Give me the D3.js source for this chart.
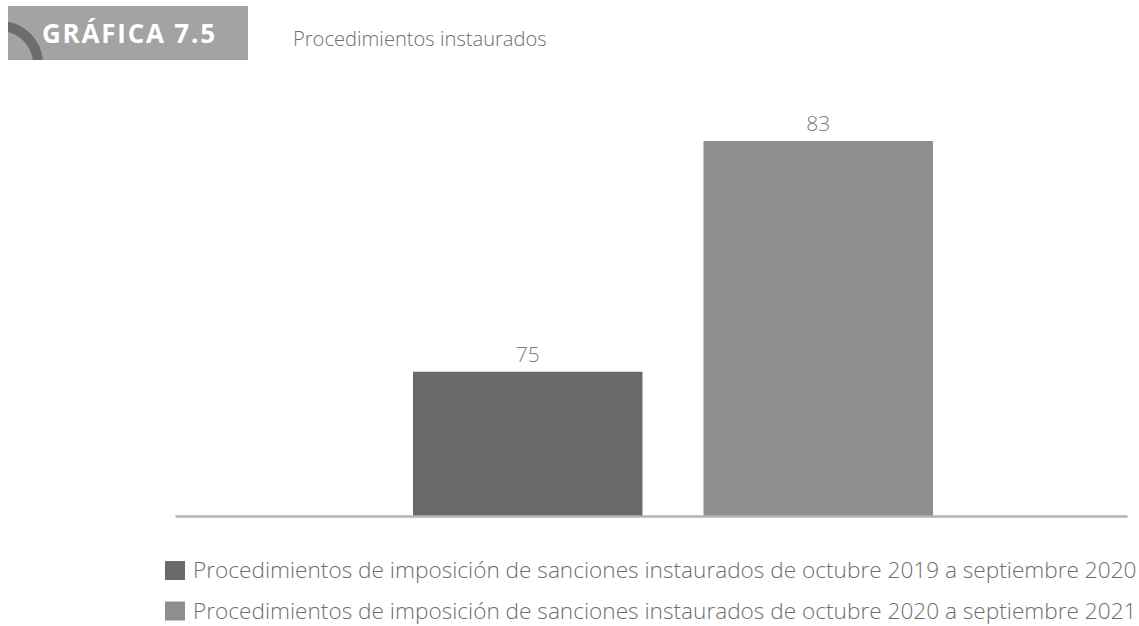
<!DOCTYPE html>
<html><head><meta charset="utf-8">
<script src="https://cdn.jsdelivr.net/npm/d3@7"></script>
<style>body{margin:0;background:#fff;} svg{display:block;}</style>
</head><body>
<svg id="c" width="1139" height="626"></svg>
<script>
const chartNumber = "GRÁFICA 7.5";
const chartTitle = "Procedimientos instaurados";
const categories = ["2019-2020", "2020-2021"];
const values = [75, 83];
const seriesLabels = [
  "Procedimientos de imposición de sanciones instaurados de octubre 2019 a septiembre 2020",
  "Procedimientos de imposición de sanciones instaurados de octubre 2020 a septiembre 2021"
];
const colors = ["#6a6a6a", "#8e8e8e"];
const yDomain = [70, 83];

const svg = d3.select("#c");
const font = "'Open Sans', Lato, sans-serif";

function fitWidth(sel, target){
  sel.each(function(){
    const s = d3.select(this);
    const fs = +s.attr("font-size");
    const w = this.getComputedTextLength();
    s.attr("font-size", fs*target/w);
  });
}
function fitSpacing(sel, target){
  sel.each(function(){
    const s = d3.select(this);
    const w = this.getComputedTextLength();
    const n = s.text().length;
    s.attr("letter-spacing", (target - w)/(n-1));
  });
}

// header
const hdr = svg.append("g");
hdr.append("clipPath").attr("id","hc").append("rect").attr("x",8).attr("y",6).attr("width",240).attr("height",54);
hdr.append("rect").attr("x",8).attr("y",6).attr("width",240).attr("height",54).attr("fill","#a3a3a3");
hdr.append("circle").attr("cx",0).attr("cy",64).attr("r",38).attr("fill","none")
  .attr("stroke","#6d6d6d").attr("stroke-width",10).attr("clip-path","url(#hc)");
const hn = hdr.append("text").attr("x",42).attr("y",43).text(chartNumber)
  .attr("fill","#fff").attr("font-family",font).attr("font-weight",700).attr("font-size",26);
fitSpacing(hn, 173);
const tt = svg.append("text").attr("x",293).attr("y",46).text(chartTitle)
  .attr("fill","#6e6e6e").attr("font-family",font).attr("font-weight",300).attr("font-size",16);
fitWidth(tt, 254);

const x = d3.scaleBand().domain(categories).range([413, 933]).paddingInner(0.21).paddingOuter(0);
const y = d3.scaleLinear().domain(yDomain).range([516, 141]);

svg.selectAll("rect.bar").data(values).join("rect").attr("class","bar")
  .attr("x",(d,i)=>x(categories[i])).attr("width",x.bandwidth())
  .attr("y",d=>y(d)).attr("height",d=>y(yDomain[0])-y(d))
  .attr("fill",(d,i)=>colors[i]);

svg.selectAll("text.val").data(values).join("text").attr("class","val")
  .attr("x",(d,i)=>x(categories[i])+x.bandwidth()/2).attr("y",d=>y(d)-10)
  .attr("text-anchor","middle").attr("fill","#7a7a7a").attr("font-family",font)
  .attr("font-weight",300).attr("font-size",21).text(d=>d);

// baseline axis
const axis = d3.axisBottom(d3.scaleLinear().range([175,1127])).ticks(0).tickSize(0).tickFormat("");
const ag = svg.append("g").attr("transform",`translate(0,${y(yDomain[0])})`).call(axis);
ag.select(".domain").attr("stroke","#b3b3b3").attr("stroke-width",2.5);

// legend
const lg = svg.selectAll("g.leg").data(seriesLabels).join("g").attr("class","leg")
  .attr("transform",(d,i)=>`translate(165,${561+i*40.5})`);
lg.append("rect").attr("width",20).attr("height",19).attr("fill",(d,i)=>colors[i]);
const lt = lg.append("text").attr("x",28).attr("y",17).text(d=>d)
  .attr("fill","#6e6e6e").attr("font-family",font).attr("font-weight",300).attr("font-size",18);
fitWidth(lt, 944);
</script>
</body></html>
